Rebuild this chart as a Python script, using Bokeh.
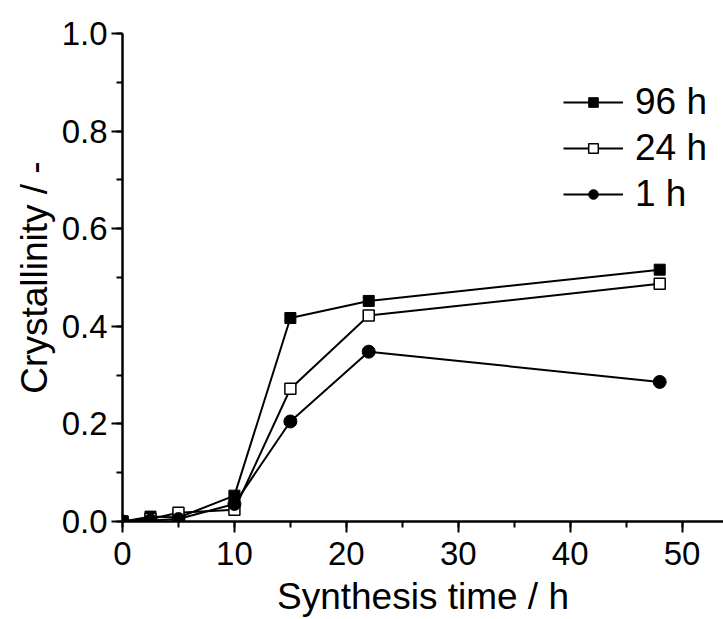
from bokeh.plotting import figure
from bokeh.models import Range1d, SingleIntervalTicker, PrintfTickFormatter, Legend, LegendItem
from bokeh.embed import file_html
from bokeh.resources import INLINE

# Data
t_96 = [0, 2.5, 5, 10, 15, 22, 48]
c_96 = [0.0, 0.010, 0.008, 0.053, 0.417, 0.452, 0.516]
t_24 = [0, 2.5, 5, 10, 15, 22, 48]
c_24 = [0.0, 0.005, 0.018, 0.024, 0.272, 0.422, 0.487]
t_1 = [0, 2.5, 5, 10, 15, 22, 48]
c_1 = [0.0, 0.002, 0.005, 0.036, 0.205, 0.348, 0.286]
labels = ["96 h", "24 h", "1 h"]

FONT = "Liberation Sans"

p = figure(width=723, height=619, output_backend="svg", toolbar_location=None,
           x_range=Range1d(0, 53.7), y_range=Range1d(0, 1.0),
           min_border_left=122, min_border_right=0, min_border_top=33, min_border_bottom=97)
p.outline_line_color = None
p.grid.visible = False
p.background_fill_color = "white"

l1 = p.line(t_96, c_96, line_color="black", line_width=2)
m1 = p.scatter(t_96, c_96, marker="square", size=11, fill_color="black", line_color="black")
l2 = p.line(t_24, c_24, line_color="black", line_width=2)
m2 = p.scatter(t_24, c_24, marker="square", size=11, fill_color="white", line_color="black", line_width=1.5)
l3 = p.line(t_1, c_1, line_color="black", line_width=2)
m3 = p.scatter(t_1, c_1, marker="circle", size=13, fill_color="black", line_color="black")

legend = Legend(items=[LegendItem(label=labels[0], renderers=[l1, m1]),
                       LegendItem(label=labels[1], renderers=[l2, m2]),
                       LegendItem(label=labels[2], renderers=[l3, m3])],
                location=(441, 306))
legend.border_line_color = None
legend.background_fill_alpha = 0
legend.label_text_font = FONT
legend.label_text_font_size = "37px"
legend.label_text_color = "black"
legend.glyph_width = 60
legend.glyph_height = 24
legend.label_height = 40
legend.spacing = 4
legend.label_standoff = 12
legend.margin = 0
legend.padding = 0
p.add_layout(legend)

for ax in (p.xaxis[0], p.yaxis[0]):
    ax.axis_line_width = 2.5
    ax.major_tick_line_width = 2
    ax.minor_tick_line_width = 2
    ax.major_tick_in = 0
    ax.major_tick_out = 11
    ax.minor_tick_in = 0
    ax.minor_tick_out = 6
    ax.major_label_text_font = FONT
    ax.major_label_text_font_size = "33px"
    ax.major_label_text_color = "black"
    ax.axis_label_text_font = FONT
    ax.axis_label_text_font_size = "37px"
    ax.axis_label_text_font_style = "normal"
    ax.axis_label_text_color = "black"
    ax.major_label_standoff = 4

p.xaxis[0].major_label_standoff = 9
p.xaxis[0].ticker = SingleIntervalTicker(interval=10, num_minor_ticks=2)
p.yaxis[0].ticker = SingleIntervalTicker(interval=0.2, num_minor_ticks=2)
p.yaxis[0].formatter = PrintfTickFormatter(format="%.1f")
p.xaxis[0].axis_label = "Synthesis time / h"
p.yaxis[0].axis_label = "Crystallinity / -"
p.xaxis[0].axis_label_standoff = 8
p.yaxis[0].axis_label_standoff = 4

open("out.html", "w").write(file_html(p, INLINE))
